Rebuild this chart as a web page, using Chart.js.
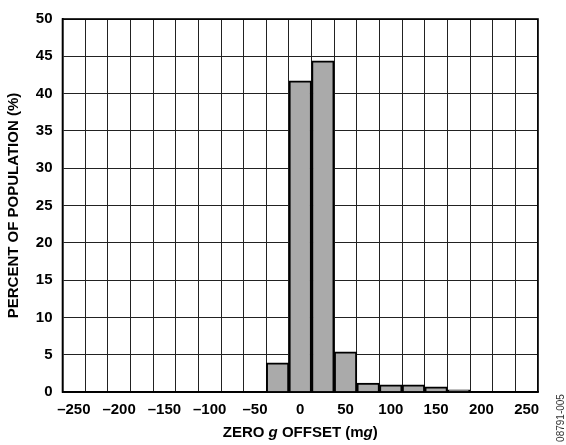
<!DOCTYPE html>
<html>
<head>
<meta charset="utf-8">
<script src="https://cdn.jsdelivr.net/npm/chart.js@4"></script>
<style>
  html, body { margin: 0; padding: 0; background: #fff; }
  #wrap { width: 566px; height: 445px; position: relative; }
</style>
</head>
<body>
<div id="wrap"><canvas id="zeroGChart"></canvas></div>
<script>
// bin centres (mg), 25 mg wide
const binCenters = [-250, -225, -200, -175, -150, -125, -100, -75, -50, -25,
                    0, 25, 50, 75, 100, 125, 150, 175, 200, 225, 250];
// percent of population per bin (null = empty bin)
const percentValues = [null, null, null, null, null, null, null, null, null, 3.9,
                       41.7, 44.4, 5.4, 1.2, 0.95, 0.95, 0.7, 0.3, null, null, null];
const yTicks = [0, 5, 10, 15, 20, 25, 30, 35, 40, 45, 50];

const FONT = '"Liberation Sans", Arial, sans-serif';

function fmt(v) {
    return v < 0 ? '\u2013' + Math.abs(v) : String(v);
}

// frame round the plot, x title with italic g, and the figure number
const extras = {
    id: 'extras',
    afterDraw(chart) {
        const ctx = chart.ctx;
        const a = chart.chartArea;
        ctx.save();
        ctx.strokeStyle = '#000';
        ctx.lineWidth = 1.6;
        ctx.strokeRect(a.left, a.top, a.right - a.left, a.bottom - a.top);

        // x axis title
        const parts = [
            ['ZERO ', 'bold'],
            ['g', 'italic bold'],
            [' OFFSET (m', 'bold'],
            ['g', 'italic bold'],
            [')', 'bold']
        ];
        let total = 0;
        parts.forEach((p) => {
            ctx.font = p[1] + ' 15px ' + FONT;
            total += ctx.measureText(p[0]).width;
        });
        let x = (a.left + a.right) / 2 - total / 2;
        ctx.fillStyle = '#000';
        ctx.textBaseline = 'middle';
        ctx.textAlign = 'left';
        parts.forEach((p) => {
            ctx.font = p[1] + ' 15px ' + FONT;
            ctx.fillText(p[0], x, 433);
            x += ctx.measureText(p[0]).width;
        });

        // figure number on the right edge
        ctx.translate(561, 418);
        ctx.rotate(-Math.PI / 2);
        ctx.font = '10px ' + FONT;
        ctx.fillStyle = '#333';
        ctx.textAlign = 'center';
        ctx.fillText('08791-005', 0, 0);
        ctx.restore();
    }
};

const ctx = document.getElementById('zeroGChart').getContext('2d');
const zeroGChart = new Chart(ctx, {
    type: 'bar',
    data: {
        labels: binCenters,
        datasets: [{
            label: 'Percent of population',
            data: percentValues,
            backgroundColor: '#aaaaaa',
            borderColor: '#000',
            borderWidth: 2,
            barPercentage: 1,
            categoryPercentage: 1
        }]
    },
    options: {
        responsive: true,
        maintainAspectRatio: false,
        animation: false,
        devicePixelRatio: 1,
        layout: { padding: { left: 0, right: 28, top: 12.5, bottom: 0 } },
        plugins: { legend: { display: false }, tooltip: { enabled: false } },
        scales: {
            x: {
                offset: true,
                grid: { offset: true, color: '#222', lineWidth: 1, drawTicks: false },
                border: { color: '#000', width: 1.6 },
                ticks: {
                    autoSkip: false,
                    maxRotation: 0,
                    padding: 9,
                    color: '#000',
                    font: { family: FONT, size: 15, weight: 'bold' },
                    callback: function (value, index) {
                        const v = binCenters[index];
                        return v % 50 === 0 ? fmt(v) : '';
                    }
                },
                afterFit: (scale) => { scale.height = 53; }
            },
            y: {
                min: 0,
                max: 50,
                afterBuildTicks: (scale) => { scale.ticks = yTicks.map((v) => ({ value: v })); },
                grid: { color: '#222', lineWidth: 1, drawTicks: false },
                border: { color: '#000', width: 1.6 },
                ticks: {
                    padding: 10,
                    color: '#000',
                    font: { family: FONT, size: 15, weight: 'bold' }
                },
                title: {
                    display: true,
                    text: 'PERCENT OF POPULATION (%)',
                    color: '#000',
                    padding: { top: 5, bottom: 0 },
                    font: { family: FONT, size: 15, weight: 'bold' }
                },
                afterFit: (scale) => { scale.width = 62.5; }
            }
        }
    },
    plugins: [extras]
});
</script>
</body>
</html>
